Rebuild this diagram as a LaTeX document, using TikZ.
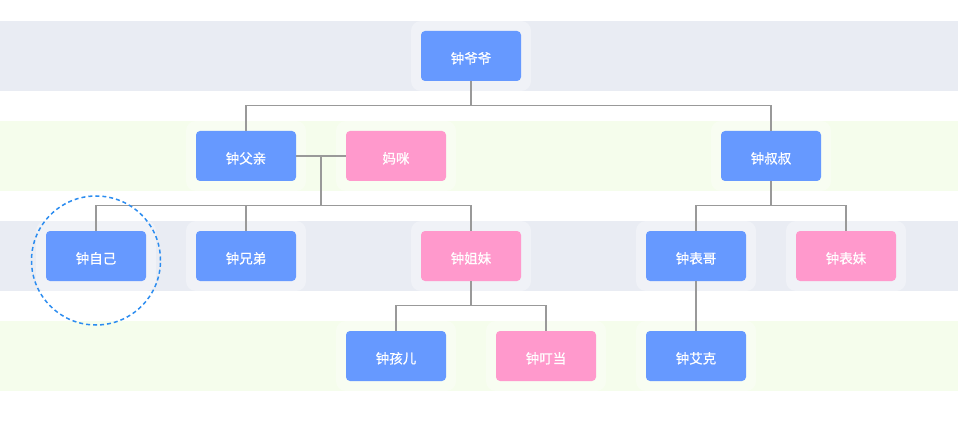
\documentclass[tikz,border=0pt]{standalone}
\usepackage{fontspec}
\setmainfont{Noto Sans CJK SC}
\newfontface\lblfont{Noto Sans CJK SC}[FakeBold=0.6]
\definecolor{bandgray}{HTML}{E9ECF3}
\definecolor{bandgreen}{HTML}{F5FDEC}
\definecolor{nodeblue}{HTML}{6699FF}
\definecolor{nodepink}{HTML}{FF99CC}
\definecolor{linegray}{HTML}{999999}
\definecolor{circblue}{HTML}{2B8CF0}
\newcommand{\lbl}[1]{\raisebox{-2.5pt}{#1}}
\tikzset{
  person/.style={rectangle, rounded corners=4pt, minimum width=100pt, minimum height=50pt, inner sep=0pt, text height=10pt, text depth=0pt, text=white, font=\lblfont\fontsize{13.5}{13.5}\selectfont},
  male/.style={person, fill=nodeblue},
  female/.style={person, fill=nodepink},
  halo/.style={fill=white, fill opacity=0.35, rounded corners=10pt},
  conn/.style={draw=linegray, line width=1.5pt}
}
\begin{document}
\begin{tikzpicture}[x=1pt,y=-1pt]
\useasboundingbox (0,0) rectangle (958,422);
\fill[white] (0,0) rectangle (958,422);
% bands
\fill[bandgray] (0,21) rectangle (958,91);
\fill[bandgreen] (0,121) rectangle (958,191);
\fill[bandgray] (0,221) rectangle (958,291);
\fill[bandgreen] (0,321) rectangle (958,391);
% halos
\foreach \x/\y in {471/56, 246/156, 396/156, 771/156, 96/256, 246/256, 471/256, 696/256, 846/256, 396/356, 546/356, 696/356}
  \fill[halo] (\x-60,\y-35) rectangle (\x+60,\y+35);
% nodes
\node[male] (ye) at (471,56) {\lbl{钟爷爷}};
\node[male] (fu) at (246,156) {\lbl{钟父亲}};
\node[female] (ma) at (396,156) {\lbl{妈咪}};
\node[male] (shu) at (771,156) {\lbl{钟叔叔}};
\node[male] (zi) at (96,256) {\lbl{钟自己}};
\node[male] (xiong) at (246,256) {\lbl{钟兄弟}};
\node[female] (jie) at (471,256) {\lbl{钟姐妹}};
\node[male] (biaoge) at (696,256) {\lbl{钟表哥}};
\node[female] (biaomei) at (846,256) {\lbl{钟表妹}};
\node[male] (haier) at (396,356) {\lbl{钟孩儿}};
\node[female] (dingdang) at (546,356) {\lbl{钟叮当}};
\node[male] (aike) at (696,356) {\lbl{钟艾克}};
% junctions
\coordinate (j1) at (471,105.5);
\coordinate (m1) at (321,156);
\coordinate (j2) at (321,205.5);
\coordinate (j3) at (771,205.5);
\coordinate (j4) at (471,305.5);
% connectors
\draw[conn] (ye.south) -- (j1);
\draw[conn] (fu.north) |- (j1) -| (shu.north);
\draw[conn] (fu.east) -- (ma.west);
\draw[conn] (m1) -- (j2);
\draw[conn] (zi.north) |- (j2) -| (jie.north);
\draw[conn] (xiong.north) -- (xiong.north |- j2);
\draw[conn] (shu.south) -- (j3);
\draw[conn] (biaoge.north) |- (j3) -| (biaomei.north);
\draw[conn] (jie.south) -- (j4);
\draw[conn] (haier.north) |- (j4) -| (dingdang.north);
\draw[conn] (biaoge.south) -- (aike.north);
% highlight circle
\node[circle, draw=circblue, line width=1.5pt, dash pattern=on 4pt off 3pt, minimum size=129pt, inner sep=0pt] (focus) at (96,260.5) {};
\end{tikzpicture}
\end{document}
